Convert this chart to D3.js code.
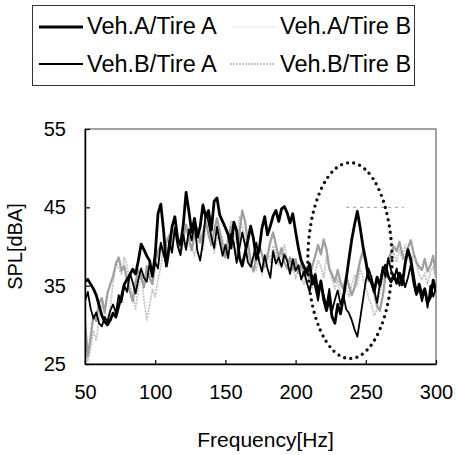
<!DOCTYPE html>
<html><head><meta charset="utf-8">
<script src="https://cdn.jsdelivr.net/npm/d3@7/dist/d3.min.js"></script>
<style>body{margin:0;background:#fff}svg{display:block}text{font-family:"Liberation Sans",Arial,sans-serif;fill:#000}</style>
</head><body><svg id="c" width="457" height="455"></svg>
<script>
// Frequency grid: 50..300 Hz every 2 Hz
const freqs = d3.range(50, 301, 2);
const xTicks = [50, 100, 150, 200, 250, 300];
const yTicks = [25, 35, 45, 55];
const seriesNames = ["Veh.A/Tire A", "Veh.B/Tire A", "Veh.A/Tire B", "Veh.B/Tire B"];

const vehATireA = [
 35.5,35.8,35.2,34.6,33.8,32.5,31.2,30.4,30.0,30.6,
 31.5,31.0,32.4,33.6,35.2,35.8,36.4,37.1,36.5,38.2,
 40.3,39.6,38.8,38.2,36.2,39.0,44.2,45.4,42.0,37.5,
 39.8,42.5,43.8,41.0,40.2,42.8,46.9,44.5,41.8,43.6,
 41.2,42.5,45.3,43.8,44.6,42.1,45.8,46.2,44.0,43.2,
 42.4,41.5,39.8,43.1,42.0,38.6,37.5,39.2,40.8,42.6,
 41.0,38.4,39.5,42.3,43.8,41.5,42.6,43.9,44.6,43.2,
 44.8,45.1,44.3,43.0,44.2,41.9,39.8,38.2,37.4,36.6,
 37.8,35.2,36.4,34.0,35.6,33.2,31.8,33.5,31.0,30.2,
 32.6,31.4,33.5,35.8,38.4,40.9,42.8,44.5,42.4,40.0,
 38.2,36.0,35.4,34.2,36.1,35.0,36.8,37.6,36.2,35.5,
 36.4,35.3,36.6,35.1,37.8,39.6,38.4,36.2,34.0,35.2,
 33.8,34.6,32.8,33.5,35.7,34.2];
const vehBTireA = [
 33.0,34.2,32.1,30.8,31.6,30.2,29.8,31.0,30.4,31.8,
 32.6,31.5,33.8,32.9,35.0,34.2,36.6,35.4,34.0,35.8,
 37.2,36.0,35.5,37.8,36.4,38.0,37.2,40.5,39.0,37.6,
 40.8,39.2,42.4,40.1,38.9,41.5,39.6,42.2,40.8,43.0,
 39.5,38.2,40.6,44.3,43.1,41.2,39.8,42.5,40.6,38.8,
 40.2,38.5,41.6,40.4,37.9,39.8,41.8,40.2,38.0,37.4,
 38.8,40.5,38.1,36.8,38.9,37.2,36.0,39.4,37.8,38.6,
 37.4,39.0,38.2,36.5,38.4,36.9,37.6,35.8,36.8,35.4,
 34.2,36.3,34.8,33.1,35.5,33.8,32.4,34.6,31.8,33.2,
 34.4,32.6,33.8,32.0,31.5,30.6,29.4,28.5,30.8,33.2,
 35.6,37.2,36.0,34.5,32.8,35.2,37.4,36.1,38.5,37.0,
 35.8,37.2,35.0,36.4,34.8,36.0,37.6,35.2,33.8,34.6,
 33.0,34.4,32.2,35.0,33.6,34.8];
const vehATireB = [
 30.5,26.0,28.4,31.2,30.5,32.8,33.4,31.6,34.0,35.2,
 36.2,37.8,38.6,36.9,37.5,35.6,34.2,33.0,35.4,37.0,
 36.1,34.8,37.5,36.0,35.2,37.8,39.4,40.2,38.8,40.6,
 41.4,39.8,42.2,40.6,39.2,41.0,42.8,40.9,39.5,41.6,
 42.4,40.5,41.8,43.2,41.5,40.2,42.0,43.6,41.8,40.0,
 38.6,40.8,42.5,40.2,38.4,41.6,44.6,43.2,40.5,38.2,
 36.8,38.5,40.2,39.0,37.4,38.8,40.6,41.8,40.2,38.6,
 39.8,38.0,37.2,38.6,37.0,38.4,36.6,37.8,36.2,37.4,
 36.0,37.6,38.8,40.2,39.0,40.9,39.6,37.2,36.4,35.5,
 37.0,35.4,34.6,36.2,35.0,33.8,34.8,36.5,38.2,39.4,
 37.8,35.6,36.2,34.0,32.4,31.8,33.6,36.2,38.4,39.2,
 40.0,39.4,40.6,39.0,38.2,39.8,40.8,39.2,38.0,37.4,
 37.0,38.4,36.8,37.6,38.8,36.2];
const vehBTireB = [
 27.5,25.4,27.0,29.2,28.0,30.6,32.8,31.4,30.6,32.2,
 35.4,38.0,37.2,36.4,38.6,37.5,35.2,33.8,32.0,34.6,
 36.8,33.2,30.6,32.4,34.5,33.6,35.8,37.4,39.8,40.5,
 41.0,42.2,41.5,40.2,39.0,40.6,39.4,41.2,40.0,38.8,
 40.6,41.8,39.6,42.4,43.0,41.6,39.2,40.8,42.2,41.0,
 39.6,41.4,43.2,42.0,40.4,43.8,42.6,41.0,39.2,37.8,
 38.4,37.0,38.6,36.4,37.8,39.2,38.0,40.1,39.0,37.6,
 38.8,40.2,38.4,36.8,37.6,35.9,37.2,36.0,35.2,36.6,
 35.4,34.6,36.8,38.2,37.4,36.0,38.6,37.2,35.8,34.6,
 35.8,34.0,33.2,34.8,33.6,35.2,36.4,35.0,37.2,36.0,
 34.8,33.4,32.6,31.2,32.0,34.2,35.6,36.8,37.5,38.6,
 39.2,38.0,39.6,38.4,40.2,38.8,37.6,39.0,37.8,36.4,
 35.8,36.6,35.2,36.8,37.4,35.6];

// Highlight ellipse (Hz / dBA) and the short 45 dBA reference mark
const ellipseCenter = [238.7, 38.2];
const ellipseRadius = [30, 12.5];
const refMarkFreq = [236, 277];
const refMarkLevel = 45;

const svg = d3.select("#c");
const m = {l: 85, r: 436, t: 129, b: 364};
const x = d3.scaleLinear().domain([50, 300]).range([m.l, m.r]);
const y = d3.scaleLinear().domain([25, 55]).range([m.b, m.t]);

svg.append("defs").append("clipPath").attr("id", "clip")
  .append("rect").attr("x", m.l).attr("y", m.t).attr("width", m.r - m.l).attr("height", m.b - m.t);

// frame
svg.append("rect").attr("x", m.l).attr("y", m.t).attr("width", m.r - m.l).attr("height", m.b - m.t)
  .attr("fill", "none").attr("stroke", "#444").attr("stroke-width", 1);

const series = [
  {name: seriesNames[3], v: vehBTireB, c: "#c4c4c4", w: 1.8, d: "2 1"},
  {name: seriesNames[2], v: vehATireB, c: "#a0a0a0", w: 2.3, d: null},
  {name: seriesNames[1], v: vehBTireA, c: "#000", w: 1.8, d: null},
  {name: seriesNames[0], v: vehATireA, c: "#000", w: 2.8, d: null}
];
const line = d3.line().x((d, i) => x(freqs[i])).y(d => y(d));
const g = svg.append("g").attr("clip-path", "url(#clip)");
series.forEach(s => {
  g.append("path").datum(s.v).attr("d", line).attr("fill", "none")
    .attr("stroke", s.c).attr("stroke-width", s.w).attr("stroke-linejoin", "round")
    .attr("stroke-dasharray", s.d);
});

// reference mark
svg.append("line").attr("x1", x(refMarkFreq[0])).attr("x2", x(refMarkFreq[1]))
  .attr("y1", y(refMarkLevel)).attr("y2", y(refMarkLevel))
  .attr("stroke", "#999").attr("stroke-width", 1).attr("stroke-dasharray", "3 4");

// dotted ellipse
svg.append("ellipse").attr("cx", x(ellipseCenter[0])).attr("cy", y(ellipseCenter[1]))
  .attr("rx", x(ellipseCenter[0] + ellipseRadius[0]) - x(ellipseCenter[0]))
  .attr("ry", y(ellipseCenter[1] - ellipseRadius[1]) - y(ellipseCenter[1]))
  .attr("fill", "none").attr("stroke", "#111").attr("stroke-width", 3.4)
  .attr("stroke-linecap", "round").attr("stroke-dasharray", "0 6.3");

// axes
const xa = svg.append("g").attr("transform", `translate(0,${m.b})`)
  .call(d3.axisBottom(x).tickValues(xTicks).tickSizeInner(-4).tickSizeOuter(0).tickPadding(21));
const ya = svg.append("g").attr("transform", `translate(${m.l},0)`)
  .call(d3.axisLeft(y).tickValues(yTicks).tickSizeInner(-5).tickSizeOuter(0).tickPadding(19));
[xa, ya].forEach(a => {
  a.select(".domain").attr("stroke", "#000").attr("stroke-width", 1.5);
  a.selectAll(".tick line").attr("stroke", "#000").attr("stroke-width", 1.2);
  a.selectAll("text").style("font-size", "20px").attr("fill", "#000");
});
xa.selectAll(".tick text").attr("dy", "0.71em");

svg.append("text").attr("x", (m.l + m.r) / 2 + 5).attr("y", 447).attr("text-anchor", "middle")
  .style("font-size", "21px").text("Frequency[Hz]");
svg.append("text").attr("transform", `translate(22,${(m.t + m.b) / 2}) rotate(-90)`)
  .attr("text-anchor", "middle").style("font-size", "20px").text("SPL[dBA]");

// legend
const lg = svg.append("g");
lg.append("rect").attr("x", 32.5).attr("y", 5.5).attr("width", 382).attr("height", 80)
  .attr("fill", "#fff").attr("stroke", "#333").attr("stroke-width", 1);
const legendItems = [
  {s: series[3], lx: 39, tx: 87, ly: 27, ty: 34},
  {s: series[1], lx: 232, tx: 280, ly: 27, ty: 34, hidden: true},
  {s: series[2], lx: 39, tx: 87, ly: 64, ty: 72},
  {s: series[0], lx: 230, tx: 280, ly: 64, ty: 72}
];
legendItems.forEach(it => {
  lg.append("line").attr("x1", it.lx).attr("x2", it.lx + 44).attr("y1", it.ly).attr("y2", it.ly)
    .attr("stroke", it.hidden ? "#f2f2f2" : it.s.c).attr("stroke-width", it.s.w + 0.2)
    .attr("stroke-dasharray", it.s.d);
  lg.append("text").attr("x", it.tx).attr("y", it.ty).style("font-size", "23.5px").text(it.s.name);
});
</script></body></html>
